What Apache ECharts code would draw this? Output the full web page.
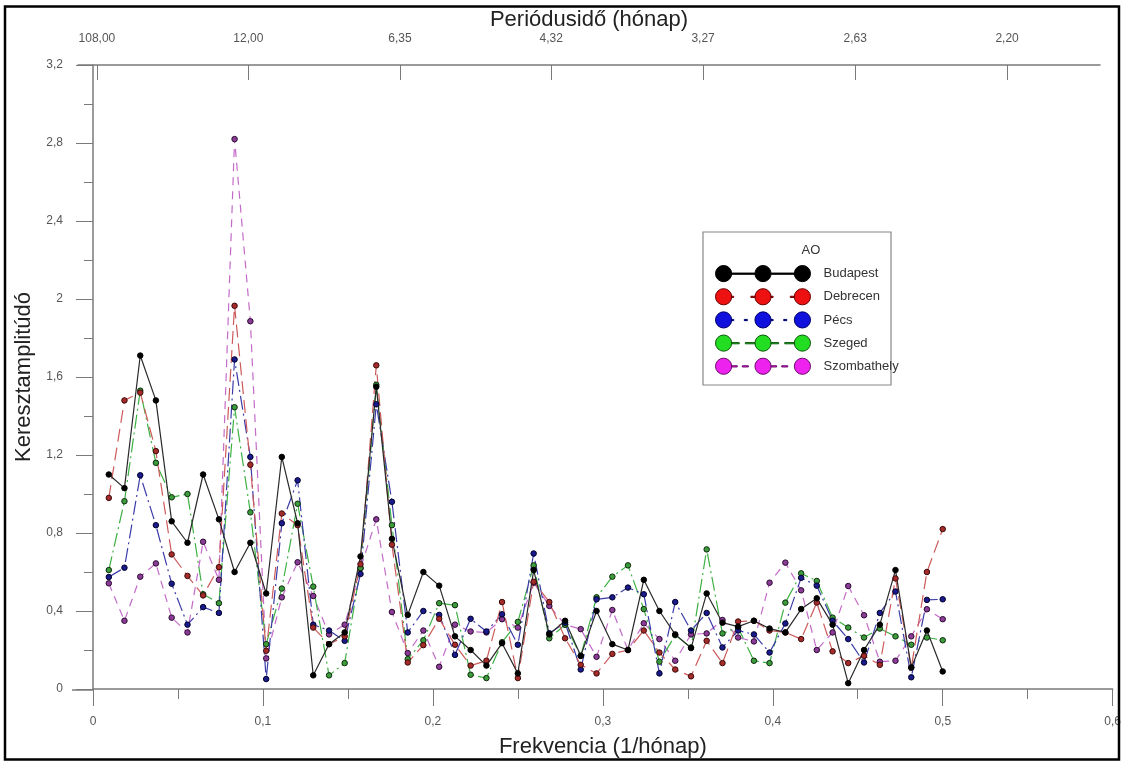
<!DOCTYPE html>
<html>
<head>
<meta charset="utf-8">
<script src="https://cdn.jsdelivr.net/npm/echarts@6/dist/echarts.min.js"></script>
<style>
  html, body { margin: 0; padding: 0; background: #fff; }
  #chart { width: 1124px; height: 763px; }
</style>
</head>
<body>
<div id="chart"></div>
<script>
// Frequencies of the harmonics (1/month), record length 108 months
const frequencies = [
  0.0093, 0.0185, 0.0278, 0.0370, 0.0463, 0.0556, 0.0648, 0.0741, 0.0833, 0.0926,
  0.1019, 0.1111, 0.1204, 0.1296, 0.1389, 0.1481, 0.1574, 0.1667, 0.1759, 0.1852,
  0.1944, 0.2037, 0.2130, 0.2222, 0.2315, 0.2407, 0.2500, 0.2593, 0.2685, 0.2778,
  0.2870, 0.2963, 0.3056, 0.3148, 0.3241, 0.3333, 0.3426, 0.3519, 0.3611, 0.3704,
  0.3796, 0.3889, 0.3981, 0.4074, 0.4167, 0.4259, 0.4352, 0.4444, 0.4537, 0.4630,
  0.4722, 0.4815, 0.4907, 0.5000
];

// Cross-amplitude with the AO index, per station
const budapest = [
  1.10, 1.03, 1.71, 1.48, 0.86, 0.75, 1.10, 0.87, 0.60, 0.75,
  0.49, 1.19, 0.85, 0.07, 0.23, 0.29, 0.68, 1.55, 0.77, 0.38,
  0.60, 0.53, 0.27, 0.20, 0.12, 0.235, 0.08, 0.61, 0.28, 0.35,
  0.17, 0.40, 0.23, 0.20, 0.56, 0.40, 0.28, 0.21, 0.49, 0.34,
  0.32, 0.35, 0.31, 0.29, 0.41, 0.465, 0.33, 0.03, 0.20, 0.33,
  0.61, 0.11, 0.30, 0.09
];
const debrecen = [
  0.98, 1.48, 1.52, 1.22, 0.69, 0.58, 0.48, 0.625, 1.965, 1.15,
  0.196, 0.90, 0.84, 0.315, 0.23, 0.27, 0.64, 1.66, 0.74, 0.136,
  0.225, 0.36, 0.227, 0.12, 0.145, 0.446, 0.056, 0.55, 0.446, 0.26,
  0.124, 0.08, 0.18, 0.20, 0.30, 0.187, 0.10, 0.065, 0.247, 0.133,
  0.346, 0.35, 0.30, 0.29, 0.256, 0.443, 0.193, 0.133, 0.17, 0.124,
  0.567, 0.11, 0.60, 0.82
];
const pecs = [
  0.574, 0.622, 1.096, 0.84, 0.54, 0.33, 0.42, 0.39, 1.69, 1.19,
  0.051, 0.85, 1.07, 0.33, 0.30, 0.247, 0.59, 1.46, 0.96, 0.29,
  0.40, 0.38, 0.175, 0.36, 0.295, 0.383, 0.227, 0.695, 0.286, 0.34,
  0.10, 0.46, 0.47, 0.52, 0.486, 0.08, 0.446, 0.30, 0.39, 0.213,
  0.30, 0.28, 0.187, 0.336, 0.57, 0.53, 0.35, 0.256, 0.136, 0.39,
  0.50, 0.06, 0.457, 0.46
];
const szeged = [
  0.61, 0.963, 1.53, 1.16, 0.983, 1.00, 0.486, 0.44, 1.445, 0.906,
  0.23, 0.515, 0.95, 0.525, 0.07, 0.133, 0.62, 1.56, 0.84, 0.153,
  0.25, 0.44, 0.43, 0.073, 0.056, 0.24, 0.344, 0.634, 0.26, 0.33,
  0.17, 0.47, 0.576, 0.634, 0.41, 0.14, 0.276, 0.213, 0.716, 0.285,
  0.315, 0.145, 0.133, 0.443, 0.593, 0.554, 0.366, 0.315, 0.264, 0.31,
  0.27, 0.227, 0.264, 0.25
];
const szombathely = [
  0.542, 0.35, 0.576, 0.644, 0.366, 0.29, 0.755, 0.56, 2.82, 1.886,
  0.157, 0.47, 0.65, 0.477, 0.28, 0.33, 0.62, 0.87, 0.395, 0.184,
  0.30, 0.114, 0.33, 0.295, 0.29, 0.358, 0.315, 0.545, 0.426, 0.33,
  0.307, 0.165, 0.405, 0.20, 0.337, 0.256, 0.145, 0.28, 0.285, 0.354,
  0.264, 0.244, 0.545, 0.648, 0.506, 0.20, 0.29, 0.528, 0.378, 0.14,
  0.145, 0.27, 0.409, 0.358
];

// Period (months) shown on the upper axis
const periodTicks = [108, 12, 6.35, 4.32, 3.27, 2.63, 2.20];

const FONT = '"Liberation Sans", Arial, sans-serif';
const AXIS_GRAY = '#7a7a7a';
const LABEL_GRAY = '#555';

const comma = v => String(parseFloat((+v).toFixed(2))).replace('.', ',');
const pairs = ys => ys.map((y, i) => [frequencies[i], y]);

// Legend swatch: three circles joined by a connector drawn in the series' dash style
function circle(cx) {
  return 'M' + (cx - 8) + ',8.5 a8,8 0 1,0 16,0 a8,8 0 1,0 -16,0 Z ';
}
function connector(segments) {
  return segments.map(([a, b]) => 'M' + a + ',8 L' + b + ',8 L' + b + ',9.2 L' + a + ',9.2 Z ').join('');
}
function swatch(segs) {
  const s2 = segs.map(([a, b]) => [a + 39, b + 39]);
  return 'path://' + circle(8.5) + circle(47.5) + circle(86.5) + connector(segs) + connector(s2);
}

const stations = [
  { name: 'Budapest',    data: budapest,    line: '#2a2a2a', dash: 'solid',        dot: '#000000', edge: '#000000',
    legendFill: '#000000', legendEdge: '#000000', segs: [[16.5, 39.5]] },
  { name: 'Debrecen',    data: debrecen,    line: '#cc5a5a', dash: [13, 6],        dot: '#a52a2a', edge: '#3a0a0a',
    legendFill: '#ee1111', legendEdge: '#6a0000', segs: [[16.5, 18.5], [35.5, 39.5]] },
  { name: 'Pécs',        data: pecs,        line: '#3a3aa8', dash: [14, 4, 2, 4],  dot: '#1a1a8a', edge: '#00002a',
    legendFill: '#1111dd', legendEdge: '#00006a', segs: [[16.5, 18.5], [29, 32]] },
  { name: 'Szeged',      data: szeged,      line: '#3cb043', dash: [14, 4, 2, 4],  dot: '#3c9c3c', edge: '#0d2a0d',
    legendFill: '#22dd22', legendEdge: '#0b5a0b', segs: [[16.5, 24], [30, 39.5]] },
  { name: 'Szombathely', data: szombathely, line: '#c46ac8', dash: [8, 6],         dot: '#8a3c96', edge: '#2a0a30',
    legendFill: '#ee22ee', legendEdge: '#6a0a6a', segs: [[16.5, 22], [27, 33]] }
];

const chart = echarts.init(document.getElementById('chart'), null, { renderer: 'canvas' });

const series = stations.slice().reverse().map(st => ({
  name: st.name,
  type: 'line',
  xAxisIndex: 0,
  yAxisIndex: 0,
  data: pairs(st.data),
  symbol: 'circle',
  symbolSize: 5.5,
  showSymbol: true,
  lineStyle: { color: st.line, width: 1.2, type: st.dash },
  itemStyle: { color: st.dot, borderColor: st.edge, borderWidth: 1 },
  emphasis: { disabled: true },
  z: 2
}));

const option = {
  animation: false,
  backgroundColor: '#ffffff',
  textStyle: { fontFamily: FONT },
  grid: [
    { left: 93, right: 10, top: 65, bottom: 73, containLabel: false },
    { left: 78, right: 24, top: 65, bottom: 73, containLabel: false }
  ],
  xAxis: [
    {
      type: 'value', gridIndex: 0, position: 'bottom',
      min: 0, max: 0.6, interval: 0.1,
      name: 'Frekvencia (1/hónap)', nameLocation: 'middle', nameGap: 47, nameMoveOverlap: false,
      nameTextStyle: { fontSize: 22, color: '#222', fontFamily: FONT },
      axisLine: { show: true, onZero: false, lineStyle: { color: AXIS_GRAY, width: 1.5 } },
      axisTick: { show: true, inside: false, length: 17, lineStyle: { color: AXIS_GRAY, width: 1 } },
      minorTick: { show: true, splitNumber: 2, length: 10, lineStyle: { color: AXIS_GRAY, width: 1 } },
      axisLabel: { margin: 27, fontSize: 12, color: LABEL_GRAY, fontFamily: FONT, formatter: comma },
      splitLine: { show: false }
    },
    {
      type: 'value', gridIndex: 1, position: 'top',
      min: 0, max: 0.5,
      name: 'Periódusidő (hónap)', nameLocation: 'middle', nameGap: 34, nameMoveOverlap: false,
      nameTextStyle: { fontSize: 22, color: '#222', fontFamily: FONT },
      axisLine: { show: true, onZero: false, lineStyle: { color: AXIS_GRAY, width: 1.5 } },
      axisTick: { show: true, inside: true, length: 15, customValues: periodTicks.map(p => 1 / p),
                  lineStyle: { color: AXIS_GRAY, width: 1 } },
      axisLabel: {
        margin: 20, fontSize: 12, color: LABEL_GRAY, fontFamily: FONT,
        customValues: periodTicks.map(p => 1 / p),
        formatter: v => {
          let best = 0;
          periodTicks.forEach((p, i) => { if (Math.abs(1 / p - v) < Math.abs(1 / periodTicks[best] - v)) best = i; });
          return periodTicks[best].toFixed(2).replace('.', ',');
        }
      },
      splitLine: { show: false }
    }
  ],
  yAxis: [
    {
      type: 'value', gridIndex: 0, position: 'left',
      min: 0, max: 3.2, interval: 0.4,
      name: 'Keresztamplitúdó', nameLocation: 'middle', nameGap: 58, nameMoveOverlap: false,
      nameTextStyle: { fontSize: 22, color: '#222', fontFamily: FONT },
      axisLine: { show: true, onZero: false, lineStyle: { color: AXIS_GRAY, width: 1.5 } },
      axisTick: { show: true, inside: false, length: 17, lineStyle: { color: AXIS_GRAY, width: 1 } },
      minorTick: { show: true, splitNumber: 2, length: 9, lineStyle: { color: AXIS_GRAY, width: 1 } },
      axisLabel: { margin: 30, fontSize: 12, color: LABEL_GRAY, fontFamily: FONT, formatter: comma },
      splitLine: { show: false }
    },
    {
      type: 'value', gridIndex: 1, show: false, min: 0, max: 1
    }
  ],
  legend: {
    orient: 'vertical',
    left: 710, top: 260,
    itemWidth: 95, itemHeight: 17, itemGap: 6,
    selectedMode: false,
    textStyle: { fontSize: 13, color: '#333', fontFamily: FONT, padding: [0, 0, 0, 8] },
    data: stations.map(st => ({
      name: st.name,
      icon: swatch(st.segs),
      itemStyle: { color: st.legendFill, borderColor: st.legendEdge, borderWidth: 1 }
    }))
  },
  graphic: [
    { type: 'rect', z: 0, shape: { x: 703, y: 232, width: 188, height: 153 },
      style: { fill: '#fff', stroke: '#888', lineWidth: 1.2 } },
    { type: 'text', z: 1, style: { x: 811, y: 250, text: 'AO', fill: '#333', font: '13px ' + FONT,
      textAlign: 'center', textVerticalAlign: 'middle' } },
    { type: 'line', z: 1, shape: { x1: 72, y1: 690, x2: 93, y2: 690 },
      style: { stroke: AXIS_GRAY, lineWidth: 1.5 } },
    { type: 'rect', z: 10, shape: { x: 5, y: 6.5, width: 1114, height: 753 },
      style: { fill: 'none', stroke: '#000', lineWidth: 2.5 } }
  ],
  series: series
};

chart.setOption(option);
</script>
</body>
</html>
